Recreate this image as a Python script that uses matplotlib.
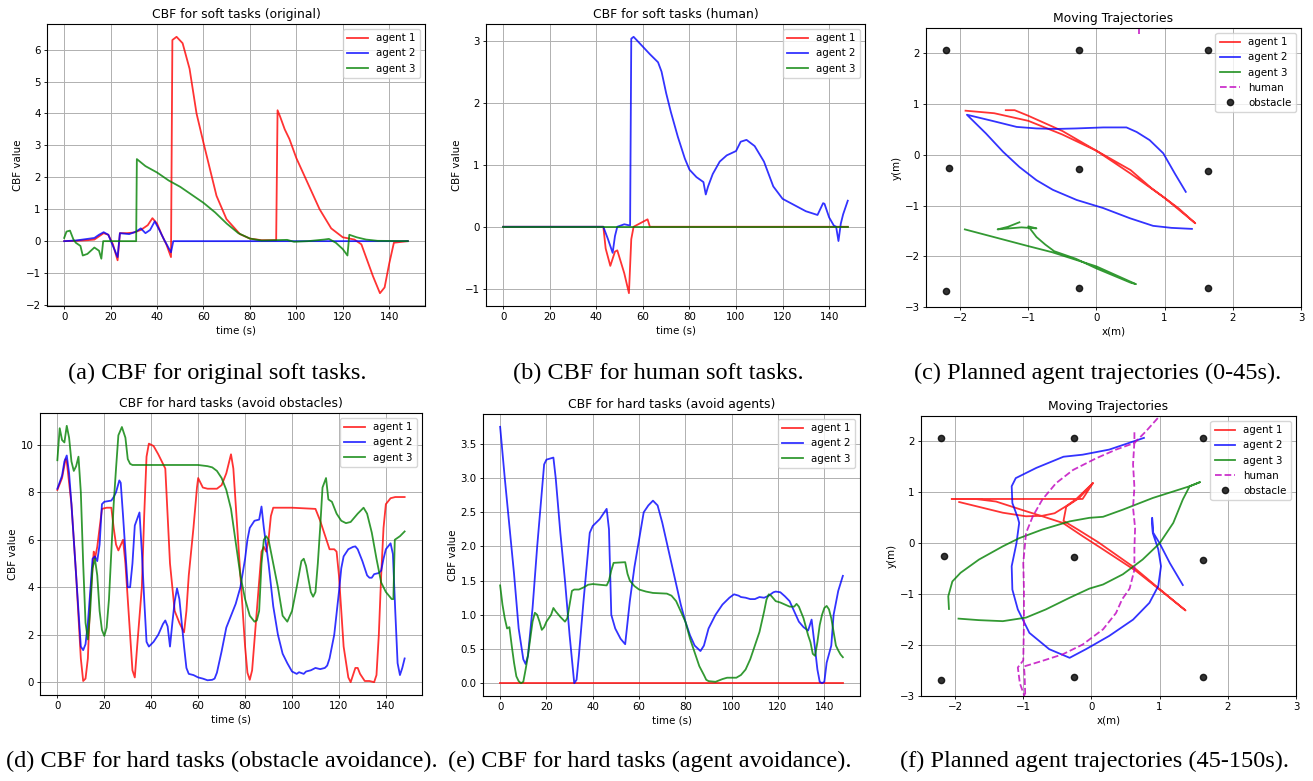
import matplotlib
matplotlib.use("Agg")
import matplotlib.pyplot as plt
from matplotlib.ticker import MultipleLocator

W, H = 1313, 781

# ---- (a) CBF for soft tasks (original) ----
a_t1 = [0, 5, 10, 13, 15, 17, 19, 21, 23, 24, 27, 30, 33, 36, 38, 40, 42, 44, 46, 46.6, 48.4, 51, 54, 57,
        60, 62.8, 65.6, 69.9, 75.7, 80, 85, 91.3, 91.9, 93, 95, 97, 100, 105, 110, 115, 120, 125, 128,
        130, 133, 136, 138, 140, 142, 148]
a_v1 = [0, 0.01, 0.03, 0.05, 0.15, 0.25, 0.2, -0.1, -0.6, 0.25, 0.25, 0.27, 0.35, 0.5, 0.72, 0.55, 0.2,
        -0.1, -0.5, 6.3, 6.4, 6.2, 5.4, 4.0, 3.08, 2.25, 1.42, 0.69, 0.22, 0.08, 0.03, 0.03, 4.1, 3.9,
        3.5, 3.2, 2.6, 1.8, 1.0, 0.4, 0.12, 0.05, -0.1, -0.5, -1.1, -1.63, -1.45, -0.7, -0.05, 0]
a_t2 = [0, 5, 10, 13, 15, 17, 19, 21, 23, 24, 28, 31, 33, 35, 37, 39, 41, 43, 46, 47, 148]
a_v2 = [0, 0.02, 0.07, 0.1, 0.2, 0.28, 0.2, -0.15, -0.5, 0.25, 0.22, 0.3, 0.4, 0.25, 0.35, 0.62, 0.35,
        0.05, -0.35, 0, 0]
a_t3 = [0, 1, 2.5, 4, 5, 7, 8, 10, 13, 15, 16, 16.8, 31, 31.3, 35, 40, 45, 50, 55, 60, 65, 70, 75, 80,
        85, 96, 99, 105, 112, 114, 117, 120, 122, 122.8, 126, 130, 135, 148]
a_v3 = [0.1, 0.3, 0.33, 0.05, -0.05, -0.15, -0.45, -0.4, -0.2, -0.3, -0.55, 0, 0, 2.57, 2.35, 2.15,
        1.9, 1.7, 1.45, 1.2, 0.9, 0.55, 0.25, 0.08, 0.02, 0.04, -0.02, 0, 0.05, 0.07, -0.05, -0.25,
        -0.45, 0.2, 0.12, 0.05, 0.01, 0]

# ---- (b) CBF for soft tasks (human) ----
b_t1 = [0, 43, 44, 46, 48, 49, 52, 54, 55, 56, 57, 62, 63, 148]
b_v1 = [0, 0, -0.35, -0.63, -0.4, -0.38, -0.75, -1.07, -0.2, 0, 0.02, 0.12, 0, 0]
b_t2 = [0, 43, 45, 47, 48, 49, 52, 54.5, 55, 56, 60, 63, 66.5, 68, 70, 72, 75, 78, 80, 83, 86, 87, 88,
        90, 93, 96, 100, 102, 104.5, 108, 112, 116, 120, 125, 130, 135, 137.4, 138, 140, 142, 143,
        144, 145, 146, 148]
b_v2 = [0, 0, -0.2, -0.42, -0.15, 0, 0.04, 0.02, 3.03, 3.06, 2.9, 2.78, 2.65, 2.5, 2.15, 1.85, 1.45,
        1.1, 0.92, 0.8, 0.72, 0.52, 0.65, 0.85, 1.05, 1.15, 1.22, 1.37, 1.4, 1.3, 1.05, 0.65, 0.45,
        0.35, 0.25, 0.19, 0.38, 0.37, 0.15, 0.02, 0, -0.23, 0.05, 0.2, 0.42]
b_t3 = [0, 148]
b_v3 = [0, 0]

# ---- (d) CBF for hard tasks (avoid obstacles) ----
d_t1 = [0, 2, 3.5, 4, 6, 8, 10, 11, 12, 13, 14, 15.5, 16, 17, 18, 19, 21, 23, 24, 25, 26, 28, 29, 30,
        31, 32, 33, 34, 36, 37, 38, 39, 41, 43, 45, 46, 47, 48, 50, 52, 54, 55, 56, 58, 59.5, 60, 62,
        64, 68, 70, 72, 74, 75, 76, 78, 80, 81, 82, 83, 85, 87, 88, 89, 90, 91, 92, 100, 110, 112, 114,
        116, 118, 119, 120, 121, 122, 124, 125, 126, 127, 128, 129, 131, 133, 135, 136, 137, 138, 139,
        140, 142, 144, 148]
d_v1 = [8.1, 8.6, 9.4, 9.3, 7.5, 4.5, 1.0, 0.05, 0.15, 1.0, 3.5, 5.5, 5.2, 5.7, 6.5, 7.3, 7.35, 7.35,
        6.5, 5.8, 5.55, 6.0, 5.0, 3.5, 2.0, 0.5, 0.2, 1.5, 4.0, 7.0, 9.5, 10.05, 9.95, 9.6, 9.2, 9.0,
        7.0, 5.0, 3.0, 2.5, 2.1, 3.0, 4.5, 6.5, 8.2, 8.6, 8.2, 8.15, 8.15, 8.3, 8.8, 9.6, 9.0, 7.5,
        4.5, 1.5, 0.4, 0.1, 0.5, 3.0, 5.5, 5.7, 5.5, 6.0, 7.0, 7.35, 7.35, 7.3, 6.8, 6.2, 5.6, 5.6,
        5.5, 4.5, 3.0, 1.5, 0.2, 0.0, 0.3, 0.6, 0.6, 0.35, 0.05, 0.05, 0.0, 0.3, 2.0, 4.5, 6.5, 7.5,
        7.75, 7.8, 7.8]
d_t2 = [0, 2, 3, 4, 5, 6, 8, 10, 11, 12, 13, 14, 15, 16, 17, 18, 19, 20, 23, 24, 25, 26.4, 27, 28,
        29, 30, 31, 32, 33, 35, 36, 37, 38, 39, 41, 43, 45, 46, 47, 48, 49, 50, 51, 52, 53, 54, 55,
        56, 58, 60, 62, 64, 66, 67, 68, 70, 72, 74, 76, 78, 80, 81, 82, 84, 86, 87, 88, 90, 92, 94,
        96, 98, 100, 102, 103, 105, 106, 108, 110, 112, 114, 115, 116, 118, 120, 121, 122, 124, 126,
        127, 128, 130, 132, 133, 134, 135, 137, 138, 139, 140, 142, 143, 144, 145, 146, 147, 148]
d_v2 = [8.15, 8.7, 9.3, 9.55, 8.8, 7.5, 4.5, 1.5, 1.35, 1.6, 2.5, 3.8, 5.2, 5.3, 5.1, 5.8, 7.5, 7.6,
        7.65, 7.8, 8.0, 8.5, 8.4, 7.0, 5.5, 4.0, 4.0, 5.0, 6.6, 7.15, 5.5, 3.5, 1.7, 1.5, 1.7, 2.0,
        2.45, 2.6, 2.35, 1.5, 2.5, 3.4, 3.95, 3.5, 2.5, 1.5, 0.6, 0.35, 0.3, 0.2, 0.15, 0.08, 0.1,
        0.15, 0.4, 1.3, 2.3, 2.8, 3.3, 4.0, 5.2, 6.0, 6.5, 6.8, 6.85, 7.4, 6.5, 5.0, 3.2, 2.0, 1.2,
        0.8, 0.45, 0.35, 0.42, 0.35, 0.45, 0.5, 0.6, 0.55, 0.6, 0.7, 1.0, 2.0, 3.8, 4.8, 5.3, 5.6,
        5.7, 5.72, 5.6, 5.1, 4.5, 4.4, 4.4, 4.55, 4.6, 4.7, 5.2, 5.6, 5.85, 5.4, 3.0, 0.8, 0.3, 0.6,
        1.0]
d_t3 = [0, 1, 2, 3, 4, 5, 6, 7, 8, 9, 10, 11, 12, 13, 14, 15, 16, 17, 18, 19, 20, 21, 22, 23, 24, 25,
        26, 27.5, 29, 30, 31, 32, 60, 64, 66, 68, 70, 72, 74, 76, 78, 80, 82, 84, 85, 86, 87, 88, 89,
        90, 92, 94, 96, 98, 100, 102, 104, 105, 106, 108, 109, 110, 111, 112, 113, 114.5, 115.5, 117,
        119, 121, 123, 125, 128, 130.5, 132, 134, 136, 138, 140, 142.5, 143.2, 143.8, 146, 148]
d_v3 = [9.35, 10.7, 10.2, 10.1, 10.8, 10.3, 9.3, 8.9, 9.1, 9.5, 8.0, 5.0, 2.5, 1.8, 3.0, 4.8, 5.2, 4.5,
        3.0, 2.2, 1.95, 2.3, 3.5, 5.5, 7.5, 9.0, 10.4, 10.75, 10.3, 9.4, 9.2, 9.15, 9.15, 9.1, 9.05,
        8.9, 8.6, 8.1, 7.3, 5.9, 4.5, 3.5, 2.8, 2.55, 2.6, 3.0, 5.0, 6.0, 6.15, 6.0, 5.0, 4.0, 2.8,
        2.55, 3.0, 4.0, 5.1, 5.2, 4.9, 3.8, 3.6, 3.8, 5.0, 6.5, 8.2, 8.6, 7.7, 7.6, 7.1, 6.8, 6.7,
        6.75, 7.1, 7.35, 7.1, 6.3, 5.2, 4.2, 3.8, 3.5, 3.5, 6.0, 6.15, 6.35]

# ---- (e) CBF for hard tasks (avoid agents) ----
e_t1 = [0, 148]
e_v1 = [0, 0]
e_t2 = [0, 2, 4, 6, 8, 10, 11, 12, 14, 16, 18, 19, 20, 23, 24, 26, 28, 30, 32, 33, 34, 36, 38.7, 40,
        43, 45, 46, 47, 48, 49.7, 52, 54, 56, 58, 60, 62, 64, 66, 68, 70, 72, 75, 78, 80, 82, 84,
        86.5, 88, 90, 93, 96, 99, 101, 103, 104, 106, 108, 110, 112, 114, 116, 118, 119, 121, 123,
        125, 127, 129, 131, 133, 134.5, 136, 137, 138, 139, 140, 141, 143, 144, 146, 148]
e_v2 = [3.75, 3.0, 2.3, 1.6, 0.8, 0.35, 0.28, 0.4, 1.1, 2.0, 2.8, 3.2, 3.27, 3.3, 3.0, 2.2, 1.5, 0.7,
        0.0, 0.05, 0.4, 1.2, 2.2, 2.3, 2.4, 2.5, 2.55, 2.25, 1.0, 0.8, 0.65, 0.57, 1.2, 1.7, 2.1, 2.5,
        2.6, 2.67, 2.6, 2.35, 2.05, 1.6, 1.15, 0.9, 0.7, 0.55, 0.47, 0.55, 0.8, 1.0, 1.15, 1.25, 1.3,
        1.28, 1.26, 1.25, 1.23, 1.23, 1.26, 1.25, 1.28, 1.33, 1.34, 1.33, 1.27, 1.2, 1.05, 0.9, 0.82,
        0.77, 0.93, 0.5, 0.2, 0.02, 0.0, 0.02, 0.3, 0.55, 1.0, 1.35, 1.57]
e_t3 = [0, 1, 2, 3, 4, 5, 6, 7, 8, 9, 10, 11, 12, 13, 14, 15, 16, 17, 18, 19, 20, 22, 23, 24, 26, 28,
        29, 30, 31, 32, 34, 36, 38, 40, 43, 46, 47, 48, 49, 54, 55, 56, 58, 60, 63, 66, 72, 74, 76,
        78, 80, 82, 84, 86, 88, 89, 90, 93, 96, 98, 100, 102, 104, 106, 108, 110, 112, 114, 115, 116,
        117, 119, 121, 123, 125, 127, 128, 129, 131, 133, 134, 135, 136, 137, 138, 139, 140, 141, 142,
        143, 144, 145, 146, 147, 148]
e_v3 = [1.43, 1.15, 0.95, 0.8, 0.82, 0.55, 0.3, 0.1, 0.03, 0.0, 0.02, 0.2, 0.4, 0.65, 0.9, 1.03, 1.0,
        0.9, 0.78, 0.82, 0.9, 1.0, 1.1, 1.05, 0.97, 0.9, 0.95, 1.15, 1.35, 1.37, 1.37, 1.4, 1.44, 1.45,
        1.44, 1.43, 1.5, 1.65, 1.76, 1.77, 1.6, 1.5, 1.42, 1.37, 1.34, 1.32, 1.31, 1.28, 1.2, 1.05,
        0.9, 0.65, 0.45, 0.25, 0.12, 0.05, 0.03, 0.02, 0.06, 0.08, 0.08, 0.08, 0.12, 0.2, 0.35, 0.55,
        0.75, 1.05, 1.22, 1.3, 1.28, 1.2, 1.18, 1.15, 1.12, 1.12, 1.16, 1.12, 0.95, 0.7, 0.6, 0.43,
        0.4, 0.6, 0.85, 1.0, 1.1, 1.13, 1.08, 0.95, 0.75, 0.55, 0.48, 0.42, 0.38]

# ---- obstacles (same in c and f) ----
obs_x = [-2.2, -0.25, 1.63, -2.16, -0.25, 1.63, -2.2, -0.25, 1.64]
obs_y = [2.07, 2.07, 2.07, -0.25, -0.27, -0.32, -2.69, -2.62, -2.62]

# ---- (c) trajectories 0-45s ----
c_x1 = [-1.33, -1.2, -1.0, -0.5, 0.0, 0.5, 1.0, 1.45, 1.2, 0.8, 0.5, 0.0, -0.5, -1.0, -1.5, -1.92]
c_y1 = [0.88, 0.88, 0.77, 0.47, 0.08, -0.37, -0.85, -1.35, -1.05, -0.65, -0.3, 0.08, 0.4, 0.67, 0.82,
        0.87]
c_x2 = [1.31, 1.15, 0.98, 0.78, 0.59, 0.44, 0.1, -0.3, -0.6, -0.88, -1.17, -1.5, -1.9, -1.62, -1.37,
        -1.13, -0.88, -0.64, -0.29, 0.1, 0.49, 0.83, 1.1, 1.4]
c_y2 = [-0.73, -0.37, 0.03, 0.29, 0.45, 0.54, 0.54, 0.52, 0.51, 0.52, 0.55, 0.66, 0.79, 0.42, 0.06,
        -0.24, -0.5, -0.69, -0.89, -1.05, -1.25, -1.4, -1.44, -1.46]
c_x3 = [-1.93, -1.0, -0.65, 0.0, 0.58, 0.5, 0.0, -0.3, -0.62, -0.75, -0.88, -1.0, -0.88, -1.1, -1.45,
        -1.3, -1.13]
c_y3 = [-1.47, -1.8, -1.92, -2.2, -2.55, -2.52, -2.24, -2.05, -1.9, -1.77, -1.62, -1.41, -1.45, -1.43,
        -1.47, -1.42, -1.33]
c_xh = [0.63, 0.63]
c_yh = [2.5, 2.38]

# ---- (f) trajectories 45-150s ----
f_x1 = [-1.94, -1.3, -0.96, -0.72, -0.54, -0.37, -0.23, 0.02, -0.18, -0.37, -0.41, -0.2, 0.1, 0.6,
        1.0, 1.38, 1.0, 0.66, 0.17, -0.13, -0.42, -0.72, -0.96, -1.4, -1.7, -2.05, -0.13, 0.02]
f_y1 = [0.81, 0.6, 0.53, 0.54, 0.59, 0.73, 0.86, 1.18, 0.89, 0.72, 0.44, 0.27, 0.02, -0.45, -0.9, -1.32,
        -0.91, -0.55, -0.12, 0.14, 0.4, 0.53, 0.63, 0.82, 0.87, 0.87, 0.87, 1.18]
f_x2 = [0.77, 0.26, -0.13, -0.41, -0.81, -1.11, -1.17, -1.16, -1.08, -1.06, -1.1, -1.17, -1.16, -1.08,
        -0.91, -0.62, -0.32, -0.08, 0.26, 0.61, 0.85, 0.98, 1.02, 0.98, 0.9, 0.89, 0.9, 1.0, 1.15, 1.34]
f_y2 = [2.07, 1.84, 1.74, 1.7, 1.48, 1.28, 1.12, 0.79, 0.5, 0.4, 0.0, -0.45, -0.91, -1.3, -1.76, -2.08,
        -2.25, -2.08, -1.82, -1.5, -1.17, -0.84, -0.45, -0.12, 0.2, 0.5, 0.22, 0.0, -0.39, -0.82]
f_x3 = [-2.09, -2.1, -2.04, -1.92, -1.65, -1.3, -1.06, -0.72, -0.32, -0.03, 0.17, 0.46, 0.9, 1.44, 1.59,
        1.44, 1.34, 1.2, 1.0, 0.75, 0.46, 0.17, -0.03, -0.32, -0.67, -0.96, -1.3, -1.65, -1.95]
f_y3 = [-1.29, -1.04, -0.75, -0.58, -0.32, -0.06, 0.1, 0.27, 0.43, 0.5, 0.52, 0.66, 0.89, 1.12, 1.2,
        1.12, 0.86, 0.4, 0.0, -0.32, -0.61, -0.81, -0.89, -1.07, -1.3, -1.46, -1.53, -1.51, -1.48]
f_xh = [0.63, 0.63, 0.61, 0.63, 0.61, 0.64, 0.63, 0.63, 0.56, 0.45, 0.36, 0.17, -0.13, -0.42, -0.72,
        -0.99, -0.98, -0.97, -1.05, -1.08, -1.0, -0.99, -0.99, -1.0, -0.96, -0.86, -0.72, -0.52, -0.27,
        0.07, 0.36, 0.63, 0.8, 1.0]
f_yh = [2.18, 2.0, 1.55, 1.1, 0.7, 0.3, -0.1, -0.52, -0.89, -1.1, -1.37, -1.69, -1.99, -2.18, -2.31,
        -2.42, -2.6, -3.05, -2.75, -2.44, -2.3, -1.56, -0.91, -0.39, 0.2, 0.53, 0.86, 1.18, 1.44, 1.67,
        1.84, 1.97, 2.2, 2.5]

agents = ['agent 1', 'agent 2', 'agent 3']
colors = ['r', 'b', 'g']
captions = ['(a) CBF for original soft tasks.', '(b) CBF for human soft tasks.',
            '(c) Planned agent trajectories (0-45s).',
            '(d) CBF for hard tasks (obstacle avoidance).', '(e) CBF for hard tasks (agent avoidance).',
            '(f) Planned agent trajectories (45-150s).']

FS = 7.4


def box(l, t, r, b):
    return [l / W, 1 - b / H, (r - l) / W, (b - t) / H]


def finish(ax, title, xlabel, ylabel):
    ax.set_title(title, fontsize=8.9, pad=4)
    ax.set_xlabel(xlabel, fontsize=FS, labelpad=2)
    ax.set_ylabel(ylabel, fontsize=FS, labelpad=2)
    ax.tick_params(labelsize=FS, length=2.5, pad=2, width=0.6)
    for s in ax.spines.values():
        s.set_linewidth(0.8)
    ax.grid(True, lw=0.7)
    ax.legend(loc='upper right', fontsize=FS, borderaxespad=0.5)


def cbf_panel(rect, title, series, ystep):
    ax = fig.add_axes(rect)
    for (t, v), c, lab in zip(series, colors, agents):
        ax.plot(t, v, color=c, alpha=0.8, lw=1.3, label=lab)
    ax.xaxis.set_major_locator(MultipleLocator(20))
    ax.yaxis.set_major_locator(MultipleLocator(ystep))
    finish(ax, title, 'time (s)', 'CBF value')
    return ax


def traj_panel(rect, paths, human):
    ax = fig.add_axes(rect)
    for (x, y), c, lab in zip(paths, colors, agents):
        ax.plot(x, y, color=c, alpha=0.8, lw=1.3, label=lab)
    ax.plot(human[0], human[1], 'm--', alpha=0.8, lw=1.3, label='human')
    ax.plot(obs_x, obs_y, 'ko', alpha=0.8, ms=4.5, label='obstacle')
    ax.set_xlim(-2.5, 3)
    ax.set_ylim(-3, 2.5)
    finish(ax, 'Moving Trajectories', 'x(m)', 'y(m)')
    return ax


fig = plt.figure(figsize=(W / 100, H / 100), dpi=100)

cbf_panel(box(47, 24, 425, 306), 'CBF for soft tasks (original)',
          [(a_t1, a_v1), (a_t2, a_v2), (a_t3, a_v3)], 1)
cbf_panel(box(486, 24, 865, 306), 'CBF for soft tasks (human)',
          [(b_t1, b_v1), (b_t2, b_v2), (b_t3, b_v3)], 1)
traj_panel(box(926, 28, 1301, 307), [(c_x1, c_y1), (c_x2, c_y2), (c_x3, c_y3)], (c_xh, c_yh))
cbf_panel(box(40, 413, 422, 695), 'CBF for hard tasks (avoid obstacles)',
          [(d_t1, d_v1), (d_t2, d_v2), (d_t3, d_v3)], 2)
cbf_panel(box(483, 414, 860, 696), 'CBF for hard tasks (avoid agents)',
          [(e_t1, e_v1), (e_t2, e_v2), (e_t3, e_v3)], 0.5)
traj_panel(box(921, 416, 1296, 696), [(f_x1, f_y1), (f_x2, f_y2), (f_x3, f_y3)], (f_xh, f_yh))

# sub-captions
cap_pos = [(217, 373), (658, 373), (1098, 373), (222, 761), (650, 761), (1094, 761)]
for (px, py), txt in zip(cap_pos, captions):
    fig.text(px / W, 1 - py / H, txt, ha='center', va='center',
             fontsize=17.5, family='Liberation Serif')

fig.savefig('out.png', dpi=100)
